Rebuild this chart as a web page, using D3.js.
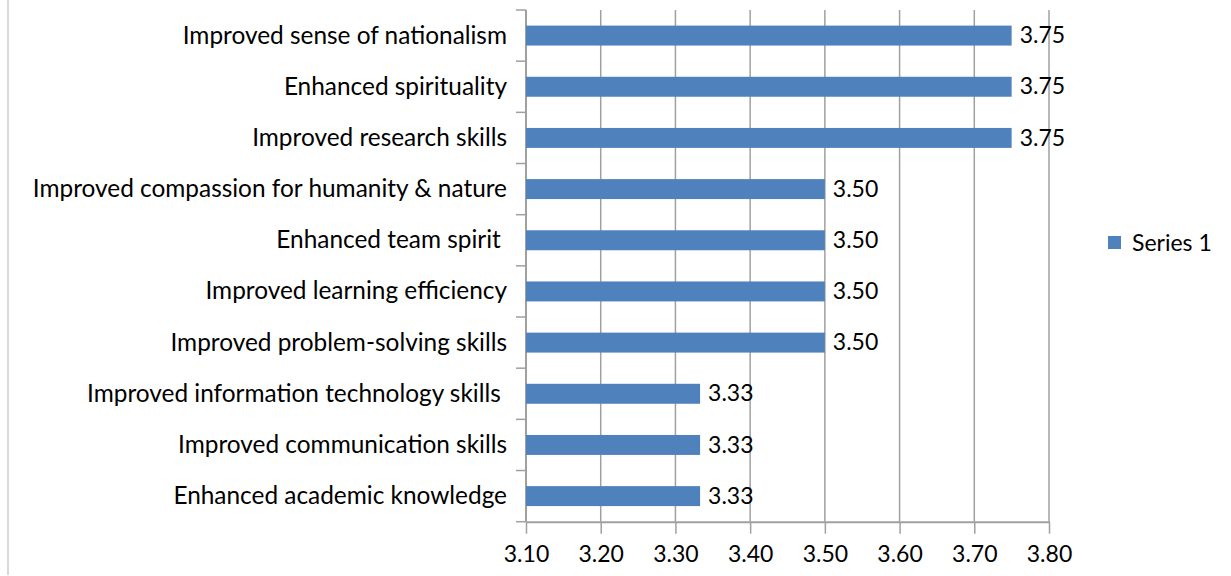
<!DOCTYPE html>
<html>
<head>
<meta charset="utf-8">
<script src="https://cdn.jsdelivr.net/npm/d3@7"></script>
<style>
  html, body { margin: 0; padding: 0; background: #fff; }
  svg { display: block; }
  text { font-family: Lato, "Open Sans", sans-serif; fill: #000; }
</style>
</head>
<body>
<svg id="chart" width="1231" height="576"></svg>
<script>
const categories = [
  "Improved sense of nationalism",
  "Enhanced spirituality",
  "Improved research skills",
  "Improved compassion for humanity & nature",
  "Enhanced team spirit ",
  "Improved learning efficiency",
  "Improved problem-solving skills",
  "Improved information technology skills ",
  "Improved communication skills",
  "Enhanced academic knowledge"
];
const series1 = [3.75, 3.75, 3.75, 3.50, 3.50, 3.50, 3.50, 3.333, 3.333, 3.333];
const seriesName = "Series 1";
const xTicks = [3.10, 3.20, 3.30, 3.40, 3.50, 3.60, 3.70, 3.80];

(function () {
const svg = d3.select("#chart");
const pLeft = 526, pRight = 1049, pTop = 10, pBottom = 521.7;
const barColor = "#4f81bd";
const gridColor = "#a0a0a0";

// outer frame (left edge visible)
svg.append("line").attr("x1", 8).attr("x2", 8).attr("y1", 0).attr("y2", 575)
  .attr("stroke", "#d9d9d9").attr("stroke-width", 2);

const x = d3.scaleLinear().domain([xTicks[0], xTicks[xTicks.length - 1]]).range([pLeft, pRight]);
const y = d3.scaleBand().domain(categories).range([pTop, pBottom])
  .paddingInner(0.61).paddingOuter(0.305);

// gridlines
svg.append("g").selectAll("line").data(xTicks.slice(1)).join("line")
  .attr("x1", d => x(d)).attr("x2", d => x(d))
  .attr("y1", pTop).attr("y2", pBottom)
  .attr("stroke", gridColor).attr("stroke-width", 1.5);

// x axis
const xAxis = svg.append("g").attr("transform", `translate(0,${pBottom})`)
  .call(d3.axisBottom(x).tickValues(xTicks).tickFormat(d3.format(".2f")).tickSize(12).tickSizeOuter(0));
xAxis.select(".domain").attr("stroke", gridColor).attr("stroke-width", 2);
xAxis.selectAll(".tick line").attr("stroke", gridColor).attr("stroke-width", 1.5);
xAxis.selectAll(".tick text").attr("font-size", 23).attr("font-family", "Lato")
  .attr("y", 40).attr("dy", 0).attr("fill", "#000");

// y axis line + boundary ticks
svg.append("line").attr("x1", pLeft).attr("x2", pLeft).attr("y1", pTop).attr("y2", pBottom)
  .attr("stroke", gridColor).attr("stroke-width", 2);
const gap = (y.step() - y.bandwidth()) / 2;
const boundaries = categories.map(c => y(c) - gap).concat([y(categories[categories.length - 1]) + y.bandwidth() + gap]);
svg.append("g").selectAll("line").data(boundaries).join("line")
  .attr("x1", pLeft - 10).attr("x2", pLeft)
  .attr("y1", d => d).attr("y2", d => d)
  .attr("stroke", gridColor).attr("stroke-width", 1.5);

// category labels
svg.append("g").selectAll("text").data(categories).join("text")
  .attr("x", 507).attr("y", d => y(d) + y.bandwidth() / 2 + 8)
  .attr("text-anchor", "end").attr("font-size", 24.4)
  .style("white-space", "pre")
  .text(d => d);

// bars
svg.append("g").selectAll("rect").data(series1).join("rect")
  .attr("x", x(xTicks[0]))
  .attr("y", (d, i) => y(categories[i]))
  .attr("width", d => x(d) - x(xTicks[0]))
  .attr("height", y.bandwidth())
  .attr("fill", barColor);

// value labels
svg.append("g").selectAll("text").data(series1).join("text")
  .attr("x", d => x(d) + 8)
  .attr("y", (d, i) => y(categories[i]) + y.bandwidth() / 2 + 7.7)
  .attr("font-size", 23)
  .text(d => d3.format(".2f")(d));

// legend
const lg = svg.append("g");
lg.append("rect").attr("x", 1108).attr("y", 236).attr("width", 13).attr("height", 13).attr("fill", barColor);
lg.append("text").attr("x", 1132).attr("y", 250.5).attr("font-size", 23).text(seriesName);
})();
</script>
</body>
</html>
